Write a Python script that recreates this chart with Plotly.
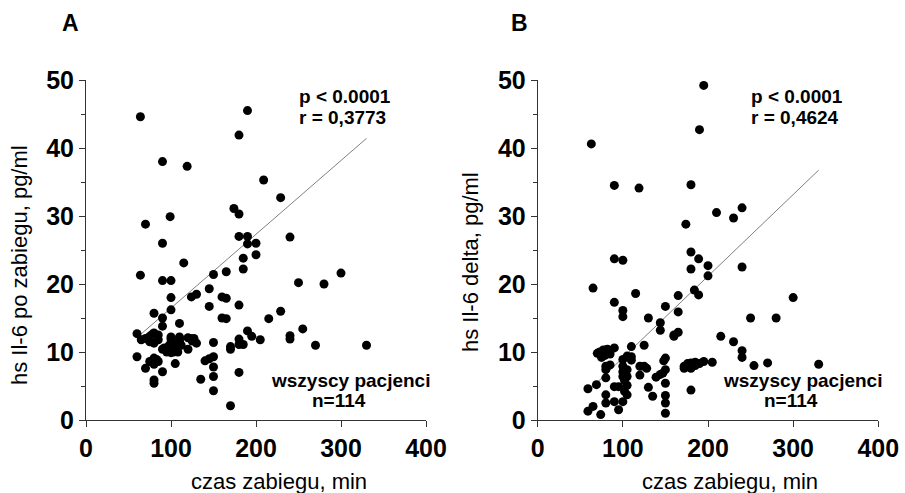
import plotly.graph_objects as go

# ---- data -------------------------------------------------------------
time_A = [64, 190, 180, 90, 119, 209, 229, 174, 180, 99, 70, 180, 190, 240, 90, 190, 200, 200,
          115, 185, 185, 64, 90, 100, 150, 165, 250, 280, 300, 100, 124, 130, 145, 145, 160,
          165, 180, 100, 80, 90, 160, 165, 215, 229, 90, 110, 255, 60, 240, 240, 270, 330,
          205, 195, 190, 180, 185, 180, 180, 170, 170, 150, 150, 150, 150, 150, 170, 140, 145,
          135, 125, 130, 120, 110, 110, 100, 105, 100, 95, 90, 105, 90, 80, 80, 70, 75, 80, 85,
          80, 60, 65, 70, 75, 80, 80, 85, 100, 100, 103, 110, 85, 78, 95, 98, 123, 127, 112, 75,
          105, 120, 100, 92, 108, 83]
il6_A = [44.6, 45.5, 41.9, 38.0, 37.3, 35.3, 32.7, 31.1, 30.3, 29.9, 28.8, 27.0, 27.0, 26.9, 26.0,
         25.9, 26.0, 24.3, 23.1, 23.8, 22.2, 21.3, 20.5, 20.5, 21.4, 21.8, 20.2, 20.0, 21.6, 18.0,
         18.1, 18.5, 19.3, 16.7, 18.1, 17.9, 16.9, 16.2, 15.7, 15.0, 15.0, 14.9, 14.9, 16.0, 13.8,
         14.2, 13.4, 12.7, 12.4, 11.9, 11.0, 11.0, 11.8, 12.3, 13.1, 11.9, 11.1, 11.1, 7.0, 10.8,
         10.4, 11.4, 9.3, 7.8, 6.4, 4.3, 2.1, 8.7, 9.0, 6.0, 11.6, 11.3, 10.4, 11.9, 11.5, 11.9,
         10.3, 9.9, 10.3, 10.4, 8.3, 7.1, 5.4, 5.9, 7.6, 8.6, 9.1, 8.6, 8.2, 9.3, 11.8, 12.0, 12.3,
         12.8, 11.3, 11.8, 11.3, 10.6, 10.0, 12.2, 12.5, 12.6, 10.0, 11.0, 12.0, 12.0, 11.0, 11.5,
         11.0, 12.1, 12.2, 10.6, 10.0, 8.9]

time_B = [63, 195, 190, 90, 119, 180, 210, 230, 240, 174, 65, 90, 100, 115, 90, 100, 100, 130,
          144, 144, 150, 165, 165, 160, 165, 160, 180, 189, 180, 200, 200, 184, 189, 240, 300,
          250, 280, 215, 230, 240, 240, 254, 270, 330, 205, 195, 190, 185, 180, 180, 172, 172,
          185, 180, 150, 150, 144, 139, 150, 150, 150, 150, 135, 130, 120, 125, 120, 125, 110,
          110, 110, 105, 105, 105, 105, 100, 100, 100, 100, 100, 95, 90, 90, 90, 80, 80, 80, 80,
          80, 80, 74, 65, 59, 59, 69, 70, 73, 75, 77, 79, 82, 75, 85, 102, 102, 105, 128, 95,
          148, 147, 183, 176, 72, 85]
il6_B = [40.6, 49.2, 42.7, 34.5, 34.1, 34.6, 30.5, 29.7, 31.2, 28.8, 19.4, 23.7, 23.5, 18.6, 17.3,
         16.1, 15.2, 15.0, 14.3, 13.2, 16.7, 18.3, 15.9, 12.5, 12.9, 12.3, 24.7, 23.7, 22.2, 22.7,
         21.2, 19.1, 18.4, 22.5, 18.0, 15.0, 15.0, 12.3, 11.5, 10.2, 9.2, 8.0, 8.4, 8.2, 8.5, 8.6,
         8.3, 8.5, 8.4, 7.6, 7.9, 7.6, 8.0, 4.4, 9.1, 7.4, 6.7, 6.3, 5.4, 3.6, 2.5, 1.0, 3.5, 4.8,
         7.9, 7.9, 6.6, 11.0, 10.8, 9.3, 8.8, 7.4, 6.4, 5.1, 3.7, 8.9, 7.9, 7.1, 6.4, 2.7, 1.5, 2.7,
         4.9, 10.6, 10.3, 7.9, 7.4, 6.2, 3.7, 2.5, 0.8, 2.0, 1.3, 4.6, 5.2, 9.8, 10.0, 9.6, 10.3,
         9.5, 10.4, 9.2, 8.1, 4.2, 5.8, 9.4, 7.6, 4.9, 8.7, 6.9, 8.2, 8.3, 9.9, 9.7]

# regression lines (slope, intercept)
fit_A = (0.1085, 5.61)
fit_B = (0.120, -2.85)

x_ticks = [0, 100, 200, 300, 400]
y_ticks = [0, 10, 20, 30, 40, 50]

stats_A = ["p < 0.0001", "r = 0,3773"]
stats_B = ["p < 0.0001", "r = 0,4624"]
group_label = ["wszyscy pacjenci", "n=114"]

# ---- figure -----------------------------------------------------------
W, H = 905, 493
fig = go.Figure()

def add_panel(xs, ys, fit, xa, ya):
    x0, x1 = min(xs), max(xs)
    fig.add_trace(go.Scatter(x=[x0, x1], y=[fit[0] * x0 + fit[1], fit[0] * x1 + fit[1]],
                             mode="lines", line=dict(color="#808080", width=1),
                             xaxis=xa, yaxis=ya, showlegend=False, hoverinfo="skip"))
    fig.add_trace(go.Scatter(x=xs, y=ys, mode="markers",
                             marker=dict(color="black", size=9, line=dict(width=0)),
                             xaxis=xa, yaxis=ya, showlegend=False, cliponaxis=False))

add_panel(time_A, il6_A, fit_A, "x", "y")
add_panel(time_B, il6_B, fit_B, "x2", "y2")

tickfont = dict(family="Liberation Sans, Arial", size=25, color="black", weight="bold")
common_x = dict(range=[0, 400], tickvals=x_ticks, ticks="outside", ticklen=6, tickwidth=1,
                tickcolor="#333", showline=True, linecolor="#333", linewidth=1,
                showgrid=False, zeroline=False, tickfont=tickfont, automargin=False)
common_y = dict(range=[0, 50], tickvals=y_ticks, ticks="outside", ticklen=6, tickwidth=1,
                tickcolor="#333", showline=True, linecolor="#333", linewidth=1,
                showgrid=False, zeroline=False, tickfont=tickfont, automargin=False,
                minor=dict(dtick=5, ticks="outside", ticklen=4, tickcolor="#333", tickwidth=1))

ydom = [1 - 420 / H, 1 - 80 / H]
fig.update_layout(
    width=W, height=H, margin=dict(l=0, r=0, t=0, b=0, pad=0, autoexpand=False),
    paper_bgcolor="white", plot_bgcolor="white",
    xaxis=dict(domain=[86 / W, 426 / W], anchor="y", **common_x),
    yaxis=dict(domain=ydom, anchor="x", **common_y),
    xaxis2=dict(domain=[537.7 / W, 878.3 / W], anchor="y2", **common_x),
    yaxis2=dict(domain=ydom, anchor="x2", **common_y),
)

def px(x, y, xanchor="center", **kw):
    return dict(x=x / W, y=1 - y / H, xref="paper", yref="paper", showarrow=False,
                xanchor=xanchor, yanchor="middle", **kw)

bold_narrow = dict(family="Liberation Sans Narrow, Arial Narrow, Liberation Sans", size=19,
                   color="black", weight="bold")
title_font = dict(family="Liberation Sans, Arial", size=22, color="black")
letter_font = dict(family="Liberation Sans, Arial", size=23, color="black", weight="bold")

ann = []
# panel letters
ann.append(px(70, 23, text="A", font=letter_font))
ann.append(px(519, 23, text="B", font=letter_font))
# stats
for x0, st in ((297, stats_A), (749, stats_B)):
    ann.append(px(x0, 96, text=st[0], xanchor="left", font=bold_narrow))
    ann.append(px(x0, 117, text=st[1], xanchor="left", font=bold_narrow))
# group label
for cx in (350, 802):
    ann.append(px(cx, 380, text=group_label[0], font=bold_narrow))
    ann.append(px(cx - 11, 400, text=group_label[1], font=bold_narrow))
# axis titles
ann.append(px(279, 481, text="czas zabiegu, min", font=title_font))
ann.append(px(730, 481, text="czas zabiegu, min", font=title_font))
ann.append(px(19, 265, text="hs Il-6 po zabiegu, pg/ml", textangle=-90, font=title_font))
ann.append(px(470, 262, text="hs Il-6 delta, pg/ml", textangle=-90, font=title_font))

fig.update_layout(annotations=ann)
fig.write_html("out.html")
